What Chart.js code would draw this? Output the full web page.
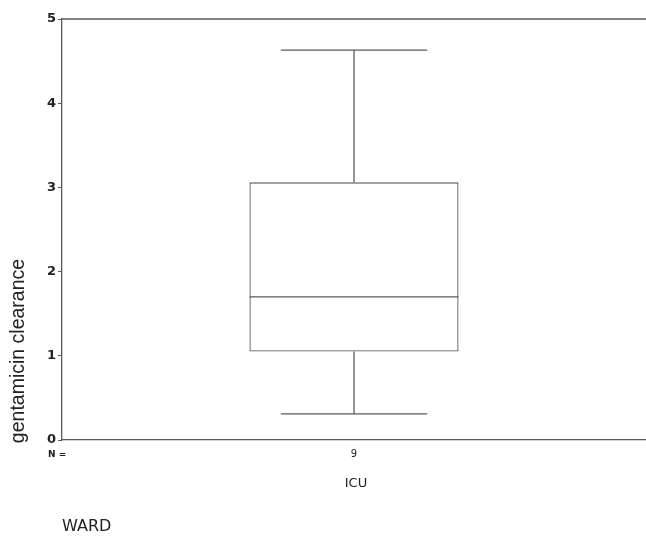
<!DOCTYPE html>
<html lang="en">
<head>
  <meta charset="UTF-8" />
  <title>gentamicin clearance - ICU</title>
  <script src="https://cdn.jsdelivr.net/npm/chart.js"></script>
  <style>
    body { margin: 0; background: #fff; }
    #wrap { width: 646px; height: 537px; }
  </style>
</head>
<body>
  <div id="wrap"><canvas id="chart"></canvas></div>

  <script>
    // box plot values
    const groups = ['9'];          // N per group, shown under the axis
    const whiskerLow = [0.31];
    const q1 = [1.05];
    const median = [1.70];
    const q3 = [3.06];
    const whiskerHigh = [4.63];
    const yTicks = [0, 1, 2, 3, 4, 5];

    const lineCol = '#5a5a5a';

    function seg(ctx, x1, y1, x2, y2) {
      ctx.beginPath(); ctx.moveTo(x1, y1); ctx.lineTo(x2, y2); ctx.stroke();
    }

    // median, whiskers and caps drawn with the chart's own scales
    const boxLines = {
      id: 'boxLines',
      afterDatasetsDraw(chart) {
        const { ctx, chartArea, scales: { x, y } } = chart;
        const bar = chart.getDatasetMeta(0).data;
        ctx.save();
        ctx.strokeStyle = lineCol;
        ctx.lineWidth = 1.3;
        bar.forEach((b, i) => {
          const cx = x.getPixelForValue(i);
          const half = b.width / 2;
          const cap = half * 0.7;
          seg(ctx, cx - half, y.getPixelForValue(median[i]), cx + half, y.getPixelForValue(median[i]));
          seg(ctx, cx, y.getPixelForValue(q3[i]), cx, y.getPixelForValue(whiskerHigh[i]));
          seg(ctx, cx, y.getPixelForValue(q1[i]), cx, y.getPixelForValue(whiskerLow[i]));
          seg(ctx, cx - cap, y.getPixelForValue(whiskerHigh[i]), cx + cap, y.getPixelForValue(whiskerHigh[i]));
          seg(ctx, cx - cap, y.getPixelForValue(whiskerLow[i]), cx + cap, y.getPixelForValue(whiskerLow[i]));
        });
        // top frame line
        seg(ctx, chartArea.left, chartArea.top, chartArea.right, chartArea.top);
        ctx.restore();

        // labels around the axes
        ctx.save();
        ctx.fillStyle = '#222';
        ctx.textBaseline = 'middle';
        ctx.font = 'bold 9px "DejaVu Sans"';
        ctx.fillText('N =', 48, 455);
        ctx.textAlign = 'center';
        ctx.font = '13px "DejaVu Sans"';
        ctx.fillText('ICU', x.getPixelForValue(0) + 2, 484);
        ctx.textAlign = 'left';
        ctx.font = '16px "DejaVu Sans"';
        ctx.fillText('WARD', 62, 527);
        ctx.translate(19, 351);
        ctx.rotate(-Math.PI / 2);
        ctx.textAlign = 'center';
        ctx.font = '19.5px "Liberation Sans"';
        ctx.fillText('gentamicin clearance', 0, 0);
        ctx.restore();
      }
    };

    new Chart(document.getElementById('chart'), {
      type: 'bar',
      data: {
        labels: groups,
        datasets: [{
          data: q1.map((v, i) => [v, q3[i]]),
          backgroundColor: '#fff',
          borderColor: lineCol,
          borderWidth: 1.3,
          borderSkipped: false,
          categoryPercentage: 1,
          barPercentage: 0.358
        }]
      },
      options: {
        responsive: true,
        maintainAspectRatio: false,
        animation: false,
        layout: { padding: { top: 19, right: 0, left: 0, bottom: 0 } },
        plugins: { legend: { display: false }, tooltip: { enabled: false } },
        scales: {
          x: {
            grid: { display: false, drawTicks: false },
            border: { color: lineCol, width: 1.3 },
            ticks: { color: '#222', font: { family: 'DejaVu Sans', size: 10 }, padding: 8 },
            afterFit: s => { s.height = 97; }
          },
          y: {
            min: 0, max: 5,
            afterBuildTicks: s => { s.ticks = yTicks.map(v => ({ value: v })); },
            grid: { drawOnChartArea: false, tickLength: 4, color: lineCol },
            border: { color: lineCol, width: 1.3, dash: [6, 2] },
            ticks: { color: '#222', font: { family: 'DejaVu Sans', size: 13, weight: 'bold' }, padding: 2 },
            afterFit: s => { s.width = 62; }
          }
        }
      },
      plugins: [boxLines]
    });
  </script>
</body>
</html>
